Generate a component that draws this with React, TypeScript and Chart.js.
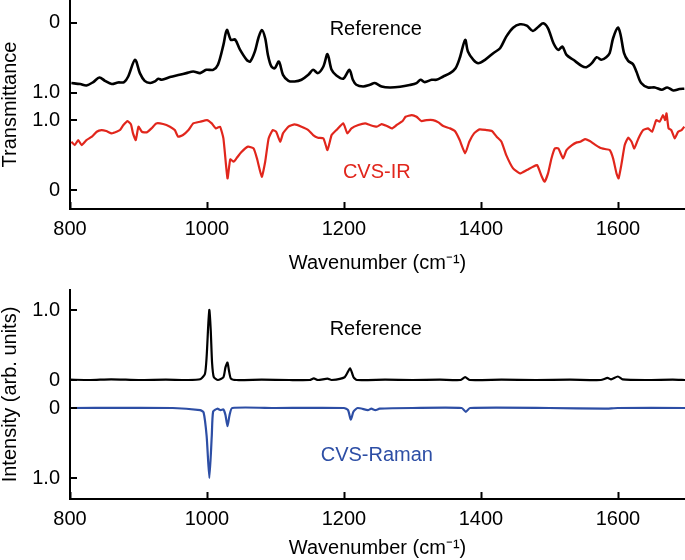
import React, { useEffect, useRef } from 'react';
import { Chart, registerables } from 'chart.js';

Chart.register(...registerables);

const FONT = '"Liberation Sans", Arial, Helvetica, sans-serif';
const RED = '#e1261c';
const BLUE = '#2d4ea5';

// ---------- shared axis data ----------
const xTickValues = [800, 1000, 1200, 1400, 1600];
const xMin = 800;
const xMax = 1698;

// ---------- IR panel ----------
const irYTickValues = [0, 1, 1.39, 2.39];
const irYTickLabels = ['0', '1.0', '1.0', '0'];
const irRefOffset = 2.39; // plotted = offset - transmittance

const irRefWavenumber = [
  802, 815, 824, 834, 843, 851, 861, 870, 879, 885, 895, 902, 909, 917, 924, 929, 934, 946, 960, 970,
  980, 990, 999, 1009, 1016, 1024, 1029, 1035, 1041, 1048, 1058, 1063, 1070, 1075, 1080, 1085, 1089, 1094, 1099, 1105,
  1111, 1119, 1128, 1138, 1148, 1155, 1162, 1170, 1176, 1182, 1189, 1199, 1208, 1213, 1218, 1228, 1238, 1245, 1255, 1267,
  1282, 1296, 1306, 1312, 1318, 1328, 1335, 1345, 1355, 1363, 1369, 1377, 1381, 1389, 1396, 1406, 1418, 1428, 1437, 1447,
  1457, 1467, 1476, 1484, 1491, 1498, 1506, 1513, 1519, 1525, 1535, 1547, 1554, 1562, 1569, 1576, 1583, 1588, 1593, 1600,
  1604, 1609, 1615, 1622, 1627, 1634, 1644, 1654, 1664, 1672, 1681, 1690, 1697,
];
const irRefTransmittance = [
  0.862, 0.876, 0.896, 0.848, 0.782, 0.83, 0.876, 0.853, 0.848, 0.768, 0.53, 0.72, 0.83, 0.862, 0.839, 0.8, 0.815, 0.777, 0.744, 0.72,
  0.697, 0.72, 0.673, 0.673, 0.6, 0.317, 0.104, 0.246, 0.24, 0.38, 0.53, 0.555, 0.41, 0.222, 0.104, 0.222, 0.46, 0.625, 0.65, 0.555,
  0.744, 0.83, 0.839, 0.815, 0.744, 0.673, 0.72, 0.625, 0.45, 0.673, 0.754, 0.8, 0.673, 0.815, 0.886, 0.91, 0.886, 0.862, 0.91, 0.925,
  0.915, 0.89, 0.862, 0.815, 0.848, 0.815, 0.815, 0.768, 0.72, 0.65, 0.507, 0.246, 0.41, 0.53, 0.578, 0.53, 0.435, 0.364, 0.199, 0.071,
  0.023, 0.043, 0.118, 0.057, 0.009, 0.08, 0.293, 0.388, 0.341, 0.46, 0.53, 0.616, 0.635, 0.578, 0.493, 0.53, 0.493, 0.435, 0.222, 0.071,
  0.175, 0.435, 0.545, 0.592, 0.697, 0.862, 0.925, 0.925, 0.957, 0.925, 0.967, 0.947, 0.943,
];

const irCvsWavenumber = [
  802, 807, 812, 817, 824, 832, 839, 846, 853, 861, 868, 873, 878, 884, 889, 892, 896, 900, 905, 912,
  919, 926, 936, 946, 953, 958, 965, 973, 980, 990, 1000, 1007, 1013, 1019, 1024, 1030, 1034, 1039, 1043, 1050,
  1060, 1068, 1073, 1080, 1085, 1090, 1096, 1101, 1107, 1111, 1119, 1128, 1138, 1148, 1155, 1162, 1170, 1176, 1182, 1189,
  1199, 1205, 1211, 1221, 1231, 1238, 1248, 1255, 1262, 1270, 1277, 1286, 1290, 1299, 1306, 1313, 1321, 1330, 1338, 1345,
  1355, 1362, 1369, 1377, 1383, 1390, 1398, 1408, 1416, 1423, 1430, 1437, 1447, 1457, 1467, 1476, 1482, 1489, 1493, 1498,
  1503, 1508, 1513, 1520, 1525, 1533, 1540, 1545, 1552, 1559, 1566, 1574, 1581, 1588, 1593, 1598, 1601, 1605, 1610, 1615,
  1620, 1624, 1630, 1637, 1644, 1650, 1656, 1661, 1666, 1669, 1671, 1674, 1678, 1683, 1688, 1693, 1697,
];
const irCvsTransmittance = [
  0.69, 0.643, 0.714, 0.643, 0.714, 0.762, 0.833, 0.857, 0.843, 0.81, 0.833, 0.857, 0.929, 0.986, 0.938, 0.81, 0.714, 0.905, 0.833, 0.824,
  0.881, 0.952, 0.943, 0.905, 0.857, 0.762, 0.786, 0.857, 0.952, 0.976, 1.0, 0.952, 0.881, 0.905, 0.738, 0.167, 0.44, 0.405, 0.452, 0.54,
  0.62, 0.595, 0.452, 0.19, 0.405, 0.738, 0.857, 0.833, 0.69, 0.81, 0.905, 0.938, 0.905, 0.857, 0.786, 0.748, 0.738, 0.571, 0.786, 0.857,
  0.952, 0.81, 0.881, 0.929, 0.952, 0.929, 0.905, 0.943, 0.919, 0.881, 0.929, 0.99, 1.047, 1.071, 1.047, 0.986, 1.0, 1.0, 0.967, 0.914,
  0.881, 0.843, 0.714, 0.524, 0.69, 0.81, 0.867, 0.857, 0.843, 0.762, 0.69, 0.5, 0.31, 0.238, 0.286, 0.333, 0.357, 0.19, 0.119, 0.238,
  0.452, 0.595, 0.595, 0.452, 0.571, 0.643, 0.681, 0.69, 0.729, 0.7, 0.652, 0.605, 0.586, 0.571, 0.452, 0.238, 0.167, 0.357, 0.643, 0.748,
  0.69, 0.595, 0.738, 0.857, 0.881, 0.833, 1.0, 0.976, 1.071, 1.0, 1.095, 0.881, 0.857, 0.738, 0.833, 0.857, 0.905,
];

// ---------- Raman panel ----------
const ramanYTickValues = [-1, 0, 0.4, 1.4];
const ramanYTickLabels = ['1.0', '0', '0', '1.0'];
const ramanRefOffset = 0.4; // plotted = offset + intensity ; CVS plotted = -intensity

const ramanRefWavenumber = [
  800, 830, 860, 900, 940, 970, 990, 997, 999.5, 1002, 1003.5, 1005.5, 1007.5, 1010, 1016, 1024, 1027, 1030, 1032, 1035,
  1043, 1080, 1120, 1150, 1156, 1162, 1176, 1182, 1201, 1209, 1214, 1219, 1260, 1300, 1340, 1370, 1377, 1384, 1430, 1480,
  1530, 1575, 1585, 1590, 1600, 1607, 1640, 1680, 1698,
];
const ramanRefIntensity = [
  0.005, 0.0, 0.01, 0.0, 0.005, 0.0, 0.01, 0.086, 0.33, 0.81, 1.0, 0.71, 0.24, 0.04, 0.0, 0.04, 0.18, 0.25, 0.14, 0.02,
  0.0, 0.005, 0.0, 0.0, 0.024, 0.0, 0.02, 0.0, 0.04, 0.167, 0.04, 0.0, 0.005, 0.0, 0.005, 0.0, 0.04, 0.0, 0.005, 0.0,
  0.005, 0.0, 0.03, 0.01, 0.05, 0.01, 0.0, 0.005, 0.0,
];

const ramanCvsWavenumber = [
  800, 950, 990, 995, 999.5, 1003.5, 1007, 1009, 1015, 1020, 1024, 1027, 1030, 1033, 1037, 1100, 1200, 1206, 1210, 1214,
  1220, 1235, 1240, 1246, 1252, 1300, 1372, 1378, 1384, 1500, 1580, 1600, 1698,
];
const ramanCvsIntensity = [
  0.0, 0.0, 0.03, 0.06, 0.4, 1.0, 0.4, 0.05, 0.01, 0.03, 0.02, 0.1, 0.26, 0.1, 0.0, 0.0, 0.0, 0.03, 0.167, 0.05,
  0.0, 0.03, 0.01, 0.03, 0.01, 0.0, 0.0, 0.055, 0.0, 0.0, 0.01, 0.0, 0.0,
];

type Label = { text: string; x: number; y: number; color: string };

const inwardTicksPlugin = {
  id: 'inwardTicks',
  afterDraw(chart: any) {
    const { ctx, chartArea, scales } = chart;
    ctx.save();
    ctx.strokeStyle = '#000';
    ctx.lineWidth = 2;
    scales.x.ticks.forEach((t: any) => {
      const px = Math.round(scales.x.getPixelForValue(t.value)) + 0.5;
      ctx.beginPath();
      ctx.moveTo(px, chartArea.bottom);
      ctx.lineTo(px, chartArea.bottom - 7);
      ctx.stroke();
    });
    scales.y.ticks.forEach((t: any) => {
      const py = Math.round(scales.y.getPixelForValue(t.value));
      ctx.beginPath();
      ctx.moveTo(chartArea.left - 1, py);
      ctx.lineTo(chartArea.left + 7, py);
      ctx.stroke();
    });
    ctx.restore();
  },
};

function makeLabelPlugin(items: Label[]) {
  return {
    id: 'textLabels',
    afterDatasetsDraw(chart: any) {
      const { ctx, scales } = chart;
      ctx.save();
      ctx.font = `20px ${FONT}`;
      ctx.textAlign = 'center';
      ctx.textBaseline = 'middle';
      items.forEach((it) => {
        ctx.fillStyle = it.color;
        ctx.fillText(it.text, scales.x.getPixelForValue(it.x), scales.y.getPixelForValue(it.y));
      });
      ctx.restore();
    },
  };
}

function buildConfig(opts: {
  datasets: any[];
  yTicks: number[];
  yLabels: string[];
  yMin: number;
  yMax: number;
  yTitle: string;
  xAxisHeight: number;
  xTitlePadBottom: number;
  padTop: number;
  labels: Label[];
}) {
  return {
    type: 'line' as const,
    data: { datasets: opts.datasets },
    plugins: [inwardTicksPlugin, makeLabelPlugin(opts.labels)],
    options: {
      responsive: false,
      animation: false as const,
      devicePixelRatio: 1,
      layout: { padding: { top: opts.padTop, left: 0, right: 0, bottom: 0 }, autoPadding: false },
      plugins: { legend: { display: false }, tooltip: { enabled: false } },
      elements: { point: { radius: 0 } },
      scales: {
        x: {
          type: 'linear' as const,
          position: 'bottom' as const,
          min: xMin,
          max: xMax,
          grid: { display: false, drawTicks: false },
          border: { display: true, color: '#000', width: 2 },
          afterBuildTicks: (scale: any) => {
            scale.ticks = xTickValues.map((v) => ({ value: v }));
          },
          afterFit: (scale: any) => {
            scale.height = opts.xAxisHeight;
            scale.paddingLeft = 0;
            scale.paddingRight = 0;
          },
          ticks: {
            autoSkip: false,
            maxRotation: 0,
            padding: 8,
            color: '#000',
            font: { family: FONT, size: 20 },
            callback: (v: any) => String(v),
          },
          title: {
            display: true,
            text: 'Wavenumber (cm⁻¹)',
            color: '#000',
            font: { family: FONT, size: 20 },
            padding: { top: 0, bottom: opts.xTitlePadBottom },
          },
        },
        y: {
          type: 'linear' as const,
          min: opts.yMin,
          max: opts.yMax,
          grid: { display: false, drawTicks: false },
          border: { display: true, color: '#000', width: 2 },
          afterBuildTicks: (scale: any) => {
            scale.ticks = opts.yTicks.map((v) => ({ value: v }));
          },
          afterFit: (scale: any) => {
            scale.width = 70;
            scale.paddingTop = 0;
            scale.paddingBottom = 0;
          },
          ticks: {
            autoSkip: false,
            padding: 10,
            color: '#000',
            font: { family: FONT, size: 20 },
            callback: (_v: any, i: number) => opts.yLabels[i],
          },
          title: {
            display: true,
            text: opts.yTitle,
            color: '#000',
            font: { family: FONT, size: 20, lineHeight: 1 },
            padding: { top: 0, bottom: 0 },
          },
        },
      },
    },
  };
}

function zipPoints(xs: number[], ys: number[], f: (v: number) => number) {
  return xs.map((x, i) => ({ x, y: f(ys[i]) }));
}

function ChartCanvas({ config }: { config: () => any }) {
  const ref = useRef<HTMLCanvasElement | null>(null);
  useEffect(() => {
    if (!ref.current) return;
    const chart = new Chart(ref.current, config());
    return () => chart.destroy();
  }, []);
  return <canvas ref={ref} width={685} height={280} style={{ display: 'block', width: 685, height: 280 }} />;
}

export default function App() {
  const irConfig = () =>
    buildConfig({
      datasets: [
        {
          data: zipPoints(irRefWavenumber, irRefTransmittance, (t) => irRefOffset - t),
          borderColor: '#000',
          borderWidth: 2.6,
          tension: 0.3,
          pointRadius: 0,
        },
        {
          data: zipPoints(irCvsWavenumber, irCvsTransmittance, (t) => t),
          borderColor: RED,
          borderWidth: 2.2,
          tension: 0.15,
          pointRadius: 0,
        },
      ],
      yTicks: irYTickValues,
      yLabels: irYTickLabels,
      yMin: -0.27,
      yMax: 2.714,
      yTitle: 'Transmittance',
      xAxisHeight: 71,
      xTitlePadBottom: 5,
      padTop: 0,
      labels: [
        { text: 'Reference', x: 1246.5, y: 2.3, color: '#000' },
        { text: 'CVS-IR', x: 1248, y: 0.25, color: RED },
      ],
    });

  const ramanConfig = () =>
    buildConfig({
      datasets: [
        {
          data: zipPoints(ramanRefWavenumber, ramanRefIntensity, (r) => ramanRefOffset + r),
          borderColor: '#000',
          borderWidth: 2.2,
          tension: 0.2,
          pointRadius: 0,
        },
        {
          data: zipPoints(ramanCvsWavenumber, ramanCvsIntensity, (r) => -r),
          borderColor: BLUE,
          borderWidth: 2.2,
          tension: 0.2,
          pointRadius: 0,
        },
      ],
      yTicks: ramanYTickValues,
      yLabels: ramanYTickLabels,
      yMin: -1.3,
      yMax: 1.686,
      yTitle: 'Intensity (arb. units)',
      xAxisHeight: 61,
      xTitlePadBottom: 0,
      padTop: 10,
      labels: [
        { text: 'Reference', x: 1246.5, y: 1.129, color: '#000' },
        { text: 'CVS-Raman', x: 1248, y: -0.679, color: BLUE },
      ],
    });

  return (
    <div style={{ position: 'absolute', left: 0, top: 0, width: 685, height: 560, background: '#fff' }}>
      <ChartCanvas config={irConfig} />
      <ChartCanvas config={ramanConfig} />
    </div>
  );
}
